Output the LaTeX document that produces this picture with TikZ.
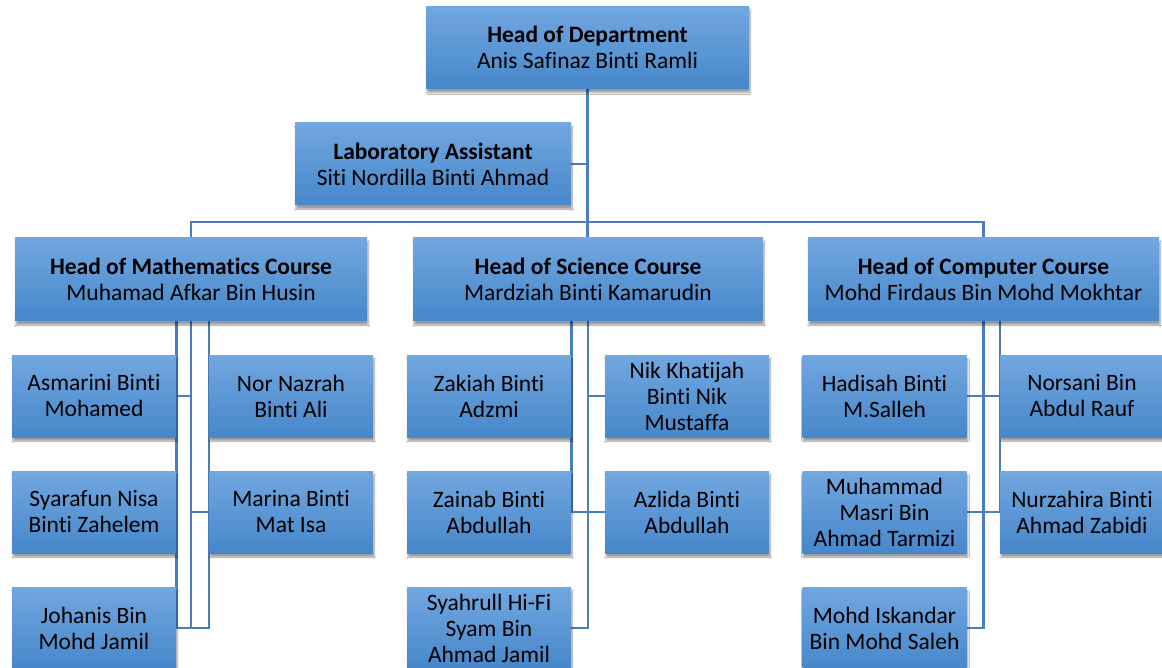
\documentclass[tikz,border=0pt]{standalone}
\usepackage{fontspec}
\setmainfont{Carlito}[Ligatures=NoCommon]
\usetikzlibrary{shadows.blur,calc}
\definecolor{boxtop}{RGB}{114,167,224}
\definecolor{boxmid}{RGB}{88,152,219}
\definecolor{boxbot}{RGB}{70,135,202}
\definecolor{linkc}{RGB}{74,126,187}
\pgfdeclarelayer{bg}
\pgfsetlayers{bg,main}
\tikzset{
  box/.style={rectangle, draw=none, top color=boxtop, middle color=boxmid, bottom color=boxbot,
    align=center, inner sep=0pt, text=black, font=\fontsize{23.5}{26}\selectfont,
    blur shadow={shadow blur steps=6, shadow xshift=1pt, shadow yshift=-4pt, shadow opacity=40}},
  headbox/.style={box, minimum height=82pt},
  person/.style={box, minimum width=164pt, minimum height=82pt},
  link/.style={draw=linkc, line width=2.6pt}
}
\begin{document}
\begin{tikzpicture}[x=1pt,y=-1pt]
\clip (0,0) rectangle (1162,668);
% top
\node[headbox, minimum width=323pt] (hod) at (587.5,47.5) {\textbf{Head of Department}\\Anis Safinaz Binti Ramli};
\node[headbox, minimum width=276pt] (lab) at (433,164) {\textbf{Laboratory Assistant}\\Siti Nordilla Binti Ahmad};
% heads
\node[headbox, minimum width=352pt, minimum height=83pt] (math) at (191,279.5) {\textbf{Head of Mathematics Course}\\Muhamad Afkar Bin Husin};
\node[headbox, minimum width=350pt, minimum height=83pt] (sci) at (588,279.5) {\textbf{Head of Science Course}\\Mardziah Binti Kamarudin};
\node[headbox, minimum width=351pt, minimum height=83pt] (comp) at (983.5,279.5) {\textbf{Head of Computer Course}\\Mohd Firdaus Bin Mohd Mokhtar};
% math
\node[person] (m1) at (94,396) {Asmarini Binti\\Mohamed};
\node[person] (m2) at (94,512) {Syarafun Nisa\\Binti Zahelem};
\node[person] (m3) at (94,628) {Johanis Bin\\Mohd Jamil};
\node[person] (m4) at (291,396) {Nor Nazrah\\Binti Ali};
\node[person] (m5) at (291,512) {Marina Binti\\Mat Isa};
% science
\node[person] (s1) at (489,396) {Zakiah Binti\\Adzmi};
\node[person] (s2) at (489,512) {Zainab Binti\\Abdullah};
\node[person] (s3) at (489,628) {Syahrull Hi-Fi\\Syam Bin\\Ahmad Jamil};
\node[person] (s4) at (687,396) {Nik Khatijah\\Binti Nik\\Mustaffa};
\node[person] (s5) at (687,512) {Azlida Binti\\Abdullah};
% computer
\node[person] (c1) at (884.5,396) {Hadisah Binti\\M.Salleh};
\node[person] (c2) at (884.5,512) {Muhammad\\Masri Bin\\Ahmad Tarmizi};
\node[person] (c3) at (884.5,628) {Mohd Iskandar\\Bin Mohd Saleh};
\node[person] (c4) at (1082,396) {Norsani Bin\\Abdul Rauf};
\node[person] (c5) at (1082,512) {Nurzahira Binti\\Ahmad Zabidi};
\begin{pgfonlayer}{bg}
\fill[white] (0,0) rectangle (1162,668);
\coordinate (bus) at (587.5,222);
\draw[link] (hod.south) -- (hod.south |- sci.north);
\draw[link] (lab.east) -- (lab.east -| hod.south);
\draw[link] (math.north) |- (bus) -| (comp.north);
% math links
\draw[link] (math.south -| m1.east) -- (m3.east) -- (m3.east -| m4.west) -- (math.south -| m4.west);
\draw[link] (math.south) -- (math.south |- m3.east);
\draw[link] (m1.east) -- (m1.east -| math.south);
\draw[link] (m5.west) -- (m5.west -| math.south);
% science links
\draw[link] (sci.south -| s1.east) -- (s2.east) -- (s5.west);
\draw[link] (sci.south) -- (sci.south |- s3.east) -- (s3.east);
\draw[link] (s4.west) -- (s4.west -| sci.south);
% computer links
\draw[link] (comp.south) -- (comp.south |- c3.east) -- (c3.east);
\draw[link] (comp.south -| c4.west) -- (c5.west);
\draw[link] (c1.east) -- (c4.west);
\draw[link] (c2.east) -- (c5.west);
\end{pgfonlayer}
\end{tikzpicture}
\end{document}
